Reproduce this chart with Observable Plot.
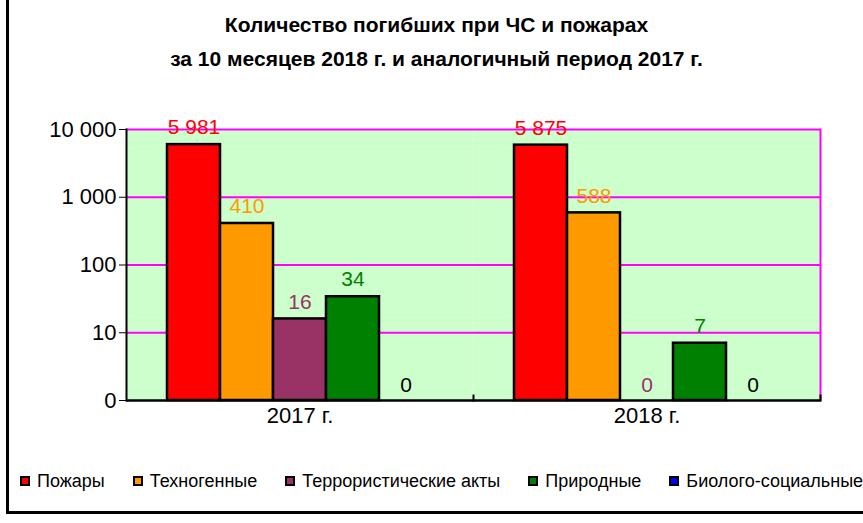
<!DOCTYPE html>
<html>
<head>
<meta charset="utf-8">
<script src="https://cdn.jsdelivr.net/npm/d3@7"></script>
<script src="https://cdn.jsdelivr.net/npm/@observablehq/plot@0.6"></script>
<style>
  html, body { margin: 0; padding: 0; background: #fff; }
  #wrap { position: relative; width: 863px; height: 523px; overflow: hidden; background: #fff;
          font-family: "Liberation Sans", Arial, sans-serif; }
  #frame { position: absolute; left: 6px; top: -10px; width: 900px; height: 521px;
           border-left: 3px solid #000; border-bottom: 3px solid #000; }
  #title { position: absolute; left: 5px; top: 8px; width: 863px; text-align: center;
           font-weight: bold; font-size: 21px; line-height: 34px; color: #000; }
  #chart { position: absolute; left: 0; top: 100px; }
  #legend { position: absolute; left: 20px; top: 470px; display: flex; gap: 28px;
            font-size: 18px; line-height: 22px; color: #000; white-space: nowrap; }
  .item { display: flex; align-items: center; gap: 7px; }
  .sw { width: 6px; height: 6px; border: 2px solid #000; display: inline-block; }
</style>
</head>
<body>
<div id="wrap">
  <div id="frame"></div>
  <div id="title">Количество погибших при ЧС и пожарах<br>за 10 месяцев 2018 г. и аналогичный период 2017 г.</div>
  <div id="chart"></div>
  <div id="legend"></div>
</div>
<script>
const years = ["2017 г.", "2018 г."];
const categories = ["Пожары", "Техногенные", "Террористические акты", "Природные", "Биолого-социальные"];
const values2017 = [5981, 410, 16, 34, 0];
const values2018 = [5875, 588, 0, 7, 0];
const barColors = ["#FF0000", "#FF9900", "#993366", "#008000", "#0000FF"];
const labelColors = ["#FF0000", "#FF9900", "#993366", "#008000", "#000000"];
const yTicks = [1, 10, 100, 1000, 10000];

const rows = [];
[values2017, values2018].forEach((vals, yi) => {
  vals.forEach((v, ci) => rows.push({year: years[yi], cat: categories[ci], value: v}));
});

const fmt = v => d3.format(",")(v).replace(/,/g, " ");
const font = "Liberation Sans, Arial, sans-serif";

const W = 863, H = 330, MT = 29, MB = 30, ML = 125, MR = 43;
const tickLen = 5;

const labelMarks = categories.flatMap((c, i) => [
  Plot.text(rows.filter(r => r.cat === c && r.value > 0), {
    fx: "year", x: "cat", y: "value", text: d => fmt(d.value),
    fill: labelColors[i], dy: -17, fontSize: 21
  }),
  Plot.text(rows.filter(r => r.cat === c && r.value === 0), {
    fx: "year", x: "cat", y: () => 1, text: d => fmt(d.value),
    fill: labelColors[i], dy: -15, fontSize: 21
  })
]);

const chart = Plot.plot({
  width: W,
  height: H,
  marginTop: MT,
  marginBottom: MB,
  marginLeft: ML,
  marginRight: MR,
  style: {fontFamily: font, fontSize: "22px", color: "#000", background: "transparent"},
  fx: {domain: years, padding: 0, label: null, tickSize: 0, tickPadding: 7, axis: "bottom"},
  x: {domain: categories, paddingInner: 0, paddingOuter: 0.74, axis: null},
  y: {type: "log", domain: [1, 10000], label: null, ticks: yTicks,
      tickFormat: d => d === 1 ? "0" : fmt(d), tickSize: 7, tickPadding: 3},
  color: {domain: categories, range: barColors},
  marks: [
    Plot.frame({fill: "#CCFFCC", stroke: "none"}),
    Plot.ruleY([10, 100, 1000, 10000], {stroke: "#FF00FF", strokeWidth: 2}),
    Plot.frame({anchor: "right", stroke: "#FF00FF", strokeWidth: 2, fx: [years[1]]}),
    Plot.frame({anchor: "left", stroke: "#000", strokeWidth: 2, fx: [years[0]]}),
    Plot.frame({anchor: "left", stroke: "#000", strokeWidth: 2, fx: [years[1]],
                insetTop: H - MT - MB - tickLen}),
    Plot.frame({anchor: "right", stroke: "#000", strokeWidth: 2, fx: [years[1]],
                insetTop: H - MT - MB - tickLen}),
    Plot.barY(rows.filter(r => r.value > 0), {
      fx: "year", x: "cat", y1: () => 1, y2: "value", fill: "cat",
      stroke: "#000", strokeWidth: 2.5
    }),
    Plot.ruleY([1], {stroke: "#000", strokeWidth: 2.5}),
    ...labelMarks
  ]
});
document.getElementById("chart").appendChild(chart);

const legend = document.getElementById("legend");
categories.forEach((c, i) => {
  const it = document.createElement("div");
  it.className = "item";
  const sw = document.createElement("span");
  sw.className = "sw";
  sw.style.background = barColors[i];
  const t = document.createElement("span");
  t.textContent = c;
  it.appendChild(sw); it.appendChild(t);
  legend.appendChild(it);
});
</script>
</body>
</html>
